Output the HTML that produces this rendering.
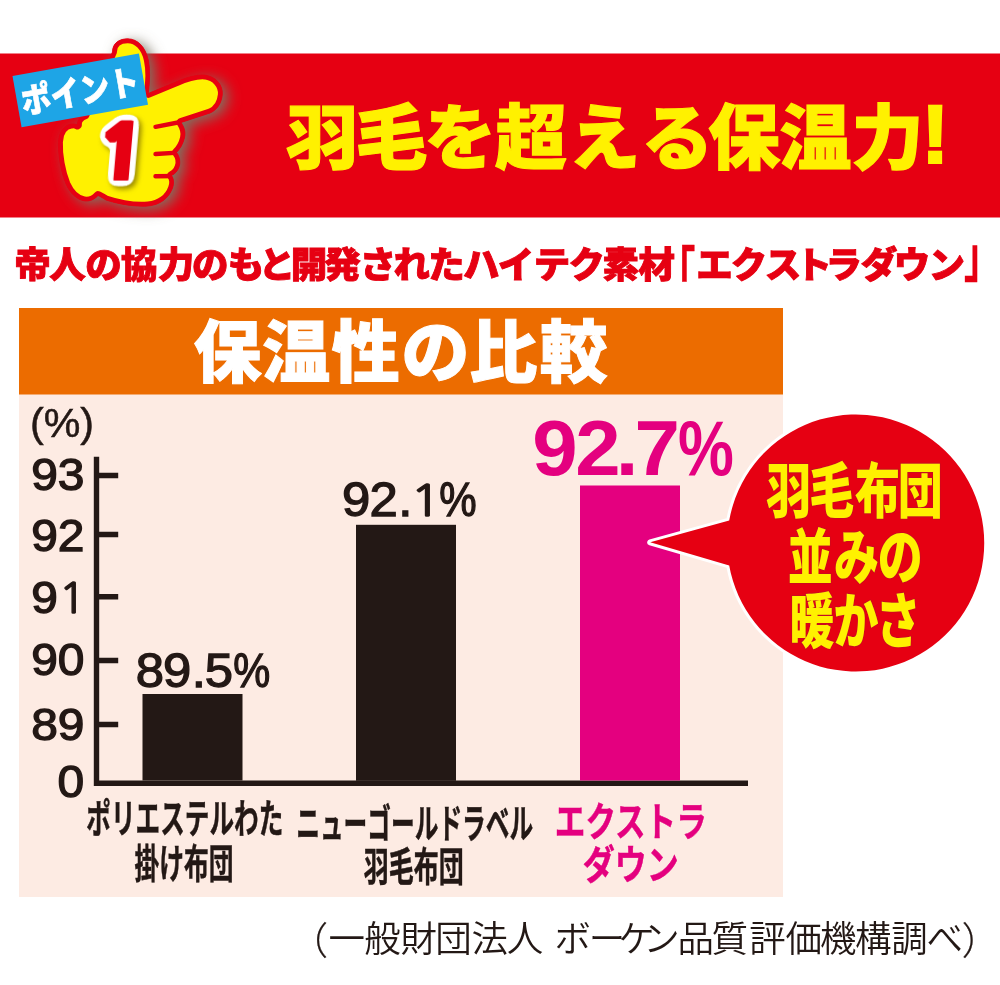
<!DOCTYPE html>
<html lang="ja"><head><meta charset="utf-8"><title>ポイント1 羽毛を超える保温力!</title>
<style>
html,body{margin:0;padding:0;background:#fff;}
body{width:1000px;height:985px;overflow:hidden;font-family:"Liberation Sans","Noto Sans CJK JP",sans-serif;}
svg{display:block;font-family:"Liberation Sans","Noto Sans CJK JP",sans-serif;}
text{white-space:pre;}
</style></head><body>
<svg width="1000" height="985" viewBox="0 0 1000 985">
<defs>
<filter id="sh" x="-30%" y="-30%" width="160%" height="160%"><feGaussianBlur stdDeviation="7"/></filter>
<filter id="one" x="-60%" y="-25%" width="240%" height="160%" color-interpolation-filters="sRGB">
<feMorphology in="SourceAlpha" operator="dilate" radius="1.5 1.7" result="thick"/>
<feFlood flood-color="#e60012"/><feComposite in2="thick" operator="in" result="redthick"/>
<feGaussianBlur in="thick" stdDeviation="3.5" result="b"/>
<feComponentTransfer in="b" result="outA"><feFuncA type="linear" slope="30" intercept="-1.0"/></feComponentTransfer>
<feFlood flood-color="#fff"/><feComposite in2="outA" operator="in" result="white"/>
<feOffset in="outA" dx="2.7" dy="3.4" result="so"/><feGaussianBlur in="so" stdDeviation="2.4" result="sb"/>
<feFlood flood-color="#4a3a00" flood-opacity="0.55"/><feComposite in2="sb" operator="in" result="shadow"/>
<feMerge><feMergeNode in="shadow"/><feMergeNode in="white"/><feMergeNode in="redthick"/></feMerge>
</filter>
</defs>
<rect width="1000" height="985" fill="#fff"/>
<!-- banner -->
<rect x="0" y="53.5" width="1000" height="164" fill="#e60012"/>

<!-- hand icon -->
<g>
<mask id="hm" maskUnits="userSpaceOnUse" x="0" y="0" width="300" height="250"><path d="M112.5,52 C112.5,43 119.5,38.8 127.6,38.8 C137.5,38.8 145.5,47 148.3,60 C150,68 150,82 148.2,93.5 L176,82 C186,77.5 196,74.5 204.5,75 C216,76.5 223,85 222.3,94.5 C221.5,103.5 217,110 210,113 L181,122.5 C184,127 186,131.5 184.4,138 C183,144 180,149 176.5,152.4 C180,157 180.5,163 179,167 C177.5,171 175,174 171.5,175.5 C174,179 174,184 172.5,188 C169,198 160,205 148,206 C135,207 118,204 106,200 C103,198 100,196.5 98,195.5 C95,199 90,201.5 85,201 C77,200 70,193 66,184 C61,172 58,155 58.5,142 C59,132 64,125 72,124 C74,123.8 76,124.2 77.5,125 C77,121 80,117 85,115 L112.5,52 Z" fill="#fff"/></mask>
<path d="M112.5,52 C112.5,43 119.5,38.8 127.6,38.8 C137.5,38.8 145.5,47 148.3,60 C150,68 150,82 148.2,93.5 L176,82 C186,77.5 196,74.5 204.5,75 C216,76.5 223,85 222.3,94.5 C221.5,103.5 217,110 210,113 L181,122.5 C184,127 186,131.5 184.4,138 C183,144 180,149 176.5,152.4 C180,157 180.5,163 179,167 C177.5,171 175,174 171.5,175.5 C174,179 174,184 172.5,188 C169,198 160,205 148,206 C135,207 118,204 106,200 C103,198 100,196.5 98,195.5 C95,199 90,201.5 85,201 C77,200 70,193 66,184 C61,172 58,155 58.5,142 C59,132 64,125 72,124 C74,123.8 76,124.2 77.5,125 C77,121 80,117 85,115 L112.5,52 Z" fill="#7d7464" filter="url(#sh)" transform="translate(5.5,3.5)"/>
<path d="M112.5,52 C112.5,43 119.5,38.8 127.6,38.8 C137.5,38.8 145.5,47 148.3,60 C150,68 150,82 148.2,93.5 L176,82 C186,77.5 196,74.5 204.5,75 C216,76.5 223,85 222.3,94.5 C221.5,103.5 217,110 210,113 L181,122.5 C184,127 186,131.5 184.4,138 C183,144 180,149 176.5,152.4 C180,157 180.5,163 179,167 C177.5,171 175,174 171.5,175.5 C174,179 174,184 172.5,188 C169,198 160,205 148,206 C135,207 118,204 106,200 C103,198 100,196.5 98,195.5 C95,199 90,201.5 85,201 C77,200 70,193 66,184 C61,172 58,155 58.5,142 C59,132 64,125 72,124 C74,123.8 76,124.2 77.5,125 C77,121 80,117 85,115 L112.5,52 Z" fill="#e60012" stroke="#e60012" stroke-width="0.8" stroke-linejoin="round"/>
<g mask="url(#hm)">
<path d="M112.5,52 C112.5,43 119.5,38.8 127.6,38.8 C137.5,38.8 145.5,47 148.3,60 C150,68 150,82 148.2,93.5 L176,82 C186,77.5 196,74.5 204.5,75 C216,76.5 223,85 222.3,94.5 C221.5,103.5 217,110 210,113 L181,122.5 C184,127 186,131.5 184.4,138 C183,144 180,149 176.5,152.4 C180,157 180.5,163 179,167 C177.5,171 175,174 171.5,175.5 C174,179 174,184 172.5,188 C169,198 160,205 148,206 C135,207 118,204 106,200 C103,198 100,196.5 98,195.5 C95,199 90,201.5 85,201 C77,200 70,193 66,184 C61,172 58,155 58.5,142 C59,132 64,125 72,124 C74,123.8 76,124.2 77.5,125 C77,121 80,117 85,115 L112.5,52 Z" fill="#fff100" stroke="#e60012" stroke-width="8.8" stroke-linejoin="round"/>
<path d="M155.5,126.8 L183,121.5 M155.5,154 L182,152.4 M155.5,176.2 L178,176" fill="none" stroke="#e60012" stroke-width="4.4" stroke-linecap="round"/>
</g>
<g transform="translate(12.5,76) rotate(-10.05)">
<rect x="0" y="0" width="128.4" height="52" fill="#1ea5e6"/>
<text x="63.8" y="39.3" font-size="34" font-weight="900" fill="#fff" stroke="#fff" stroke-width="0.7" text-anchor="middle" textLength="119" lengthAdjust="spacingAndGlyphs">ポイント</text>
</g>
<text transform="translate(94.6,178.6) skewX(-5) scale(1.12,1)" font-family='"NanumGothic","Liberation Sans",sans-serif' font-size="73" font-weight="800" fill="#e60012" filter="url(#one)">1</text>
</g>

<!-- title -->
<g><text transform="scale(1.015,1)" x="282.147 350.135 418.028 487.761 559.987 631.821 697.643 768.086 839.023" y="162.8" font-size="71" font-weight="900" fill="#fff100" stroke="#fff100" stroke-width="1.1" stroke-linejoin="miter" stroke-miterlimit="2">羽毛を超える保温力</text><text transform="translate(935.2,163.2) scale(1,1)" font-size="84" font-weight="700" fill="#fff100" text-anchor="middle" stroke="#fff100" stroke-width="2.2" stroke-linejoin="miter">!</text></g>
<!-- subtitle -->
<g><text x="14.15 49.167 85.133 121.033 157.78 191.933 227.715 258.803 290.8 324.15 359.868 393.467 428.15 462.95 497.863 533.867 568.597 602.585 638.515" y="277.5" font-size="36.5" font-weight="900" fill="#e60012" stroke="#e60012" stroke-width="0.9" stroke-linejoin="miter" stroke-miterlimit="2">帝人の協力のもと開発されたハイテク素材</text><text transform="translate(659,293.2) scale(0.655,1)" font-size="55.5" font-weight="700" fill="#e60012" text-anchor="start" stroke="#e60012" stroke-width="0.5">「</text><text x="696.25 730.798 764.75 795.398 825.587 860.635 893.635 928.587" y="277.5" font-size="36.5" font-weight="900" fill="#e60012" stroke="#e60012" stroke-width="0.9" stroke-linejoin="miter" stroke-miterlimit="2">エクストラダウン</text><text transform="translate(964,275.9) scale(0.655,1)" font-size="55.5" font-weight="700" fill="#e60012" text-anchor="start" stroke="#e60012" stroke-width="0.5">」</text></g>
<!-- chart -->
<rect x="19" y="308" width="764" height="589" fill="#fdebe3"/>
<rect x="19" y="308" width="764" height="86.5" fill="#ec6c00"/>
<text x="193.41 262.36 331.68 401.49 469.22 539.75" y="377.3" font-size="68" font-weight="900" fill="#fff" stroke="#fff" stroke-width="1" stroke-linejoin="miter" stroke-miterlimit="2">保温性の比較</text>
<path d="M96.5,456.7 V783.3 H748" fill="none" stroke="#231815" stroke-width="5.4"/>
<path d="M96.4,475.6 H118.2 M96.4,534.5 H118.2 M96.4,596.8 H118.2 M96.4,660.4 H118.2 M96.4,724.5 H118.2" fill="none" stroke="#231815" stroke-width="5.5"/>
<rect x="142.5" y="694" width="100" height="86.5" fill="#231815"/>
<rect x="356" y="524.8" width="100" height="256" fill="#231815"/>
<rect x="580" y="485.5" width="100" height="295" fill="#e4007f"/>
<text transform="translate(62,437.3) scale(1.03,1)" font-size="40" font-weight="400" fill="#231815" text-anchor="middle" stroke="#231815" stroke-width="0.5">(%)</text>
<text transform="translate(31.2,490) scale(1.077,1)" font-size="44.5" font-weight="400" fill="#231815" text-anchor="start" stroke="#231815" stroke-width="1.3">93</text>
<text transform="translate(31.2,550.5) scale(1.077,1)" font-size="44.5" font-weight="400" fill="#231815" text-anchor="start" stroke="#231815" stroke-width="1.3">92</text>
<text transform="translate(31.2,612.8) scale(1.077,1)" font-size="44.5" font-weight="400" fill="#231815" text-anchor="start" stroke="#231815" stroke-width="1.3">9<tspan font-family='"NanumGothic","Liberation Sans",sans-serif' font-size="42.2" dx="0.5">1</tspan></text>
<text transform="translate(31.2,675.4) scale(1.077,1)" font-size="44.5" font-weight="400" fill="#231815" text-anchor="start" stroke="#231815" stroke-width="1.3">90</text>
<text transform="translate(31.2,740.4) scale(1.077,1)" font-size="44.5" font-weight="400" fill="#231815" text-anchor="start" stroke="#231815" stroke-width="1.3">89</text>
<text transform="translate(57.4,797) scale(1.077,1)" font-size="44.5" font-weight="400" fill="#231815" text-anchor="start" stroke="#231815" stroke-width="1.3">0</text>
<g><text transform="scale(1.07,1)" x="126.984 152.307 179.331 191.47" y="687" font-size="47.5" font-weight="400" fill="#231815" stroke="#231815" stroke-width="1.3">89.5</text><text transform="scale(0.875,1)" x="266.691" y="687" font-size="47.5" font-weight="400" fill="#231815" stroke="#231815" stroke-width="1.3">%</text></g>
<g><text transform="scale(1.07,1)" x="319.55 345.392 372.088" y="515.8" font-size="47.5" font-weight="400" fill="#231815" stroke="#231815" stroke-width="1.3">92.</text><text transform="scale(1.2,1)" x="341.709" y="515.8" font-size="43.3" font-weight="400" fill="#231815" stroke="#231815" stroke-width="1.3" font-family='"NanumGothic","Liberation Sans",sans-serif'>1</text><text transform="scale(0.885,1)" x="496.433" y="515.8" font-size="47.5" font-weight="400" fill="#231815" stroke="#231815" stroke-width="1.3">%</text></g>
<g><text transform="scale(1.04,1)" x="511.722 553.028 592.183 610.143" y="475.2" font-size="78.5" font-weight="700" fill="#e4007f">92.7</text><text transform="scale(0.8,1)" x="847.505" y="475.2" font-size="78.5" font-weight="700" fill="#e4007f">%</text></g>
<!-- bar labels -->
<text x="184.85" y="832.8" font-size="40" font-weight="700" fill="#231815" stroke="#231815" stroke-width="0.5" text-anchor="middle" textLength="197" lengthAdjust="spacingAndGlyphs">ポリエステルわた</text>
<text x="184" y="878.3" font-size="40" font-weight="700" fill="#231815" stroke="#231815" stroke-width="0.5" text-anchor="middle" textLength="99" lengthAdjust="spacingAndGlyphs">掛け布団</text>
<text x="414.7" y="837.5" font-size="40" font-weight="700" fill="#231815" stroke="#231815" stroke-width="0.5" text-anchor="middle" textLength="237" lengthAdjust="spacingAndGlyphs">ニューゴールドラベル</text>
<text x="413.65" y="880.8" font-size="40" font-weight="700" fill="#231815" stroke="#231815" stroke-width="0.5" text-anchor="middle" textLength="100" lengthAdjust="spacingAndGlyphs">羽毛布団</text>
<text x="630.8" y="836.3" font-size="40" font-weight="700" fill="#e4007f" stroke="#e4007f" stroke-width="0.5" text-anchor="middle" textLength="152" lengthAdjust="spacingAndGlyphs">エクストラ</text>
<text x="630.7" y="879" font-size="40" font-weight="700" fill="#e4007f" stroke="#e4007f" stroke-width="0.5" text-anchor="middle" textLength="96" lengthAdjust="spacingAndGlyphs">ダウン</text>
<!-- bubble -->
<path d="M729.2,520.6 A128.5,128.5 0 1 1 729.2,565.4 L650.2,542.3 Z" fill="#e60012" stroke="#fff" stroke-width="6" stroke-linejoin="round" paint-order="stroke"/>
<text transform="scale(0.75,1)" x="1021.8 1079.1 1139.867 1197.033" y="513.4" font-size="60" font-weight="900" fill="#fff100" stroke="#c30d23" stroke-width="1.6" paint-order="stroke" stroke-linejoin="round">羽毛布団</text>
<text transform="scale(0.75,1)" x="1050.367 1112 1170.3" y="578.6" font-size="60" font-weight="900" fill="#fff100" stroke="#c30d23" stroke-width="1.6" paint-order="stroke" stroke-linejoin="round">並みの</text>
<text transform="scale(0.75,1)" x="1052.8 1111.467 1167.7" y="643" font-size="60" font-weight="900" fill="#fff100" stroke="#c30d23" stroke-width="1.6" paint-order="stroke" stroke-linejoin="round">暖かさ</text>
<!-- footer -->
<g><text transform="translate(290,954.2) scale(1,1)" font-size="38" font-weight="300" fill="#231815" text-anchor="start" stroke="#231815" stroke-width="0.3">（</text><text x="328.467 364.317 400.5 435.25 471.5 506.817 543.438 554.567 588.683 618.315 643.222 677.567 711.6 749.25 785.548 820.067 855.067 891.148 926.465" y="952.3" font-size="36.5" font-weight="350" fill="#231815">一般財団法人 ボーケン品質評価機構調べ</text><text transform="translate(961.8,954.2) scale(1,1)" font-size="38" font-weight="300" fill="#231815" text-anchor="start" stroke="#231815" stroke-width="0.3">）</text></g>
</svg></body></html>
